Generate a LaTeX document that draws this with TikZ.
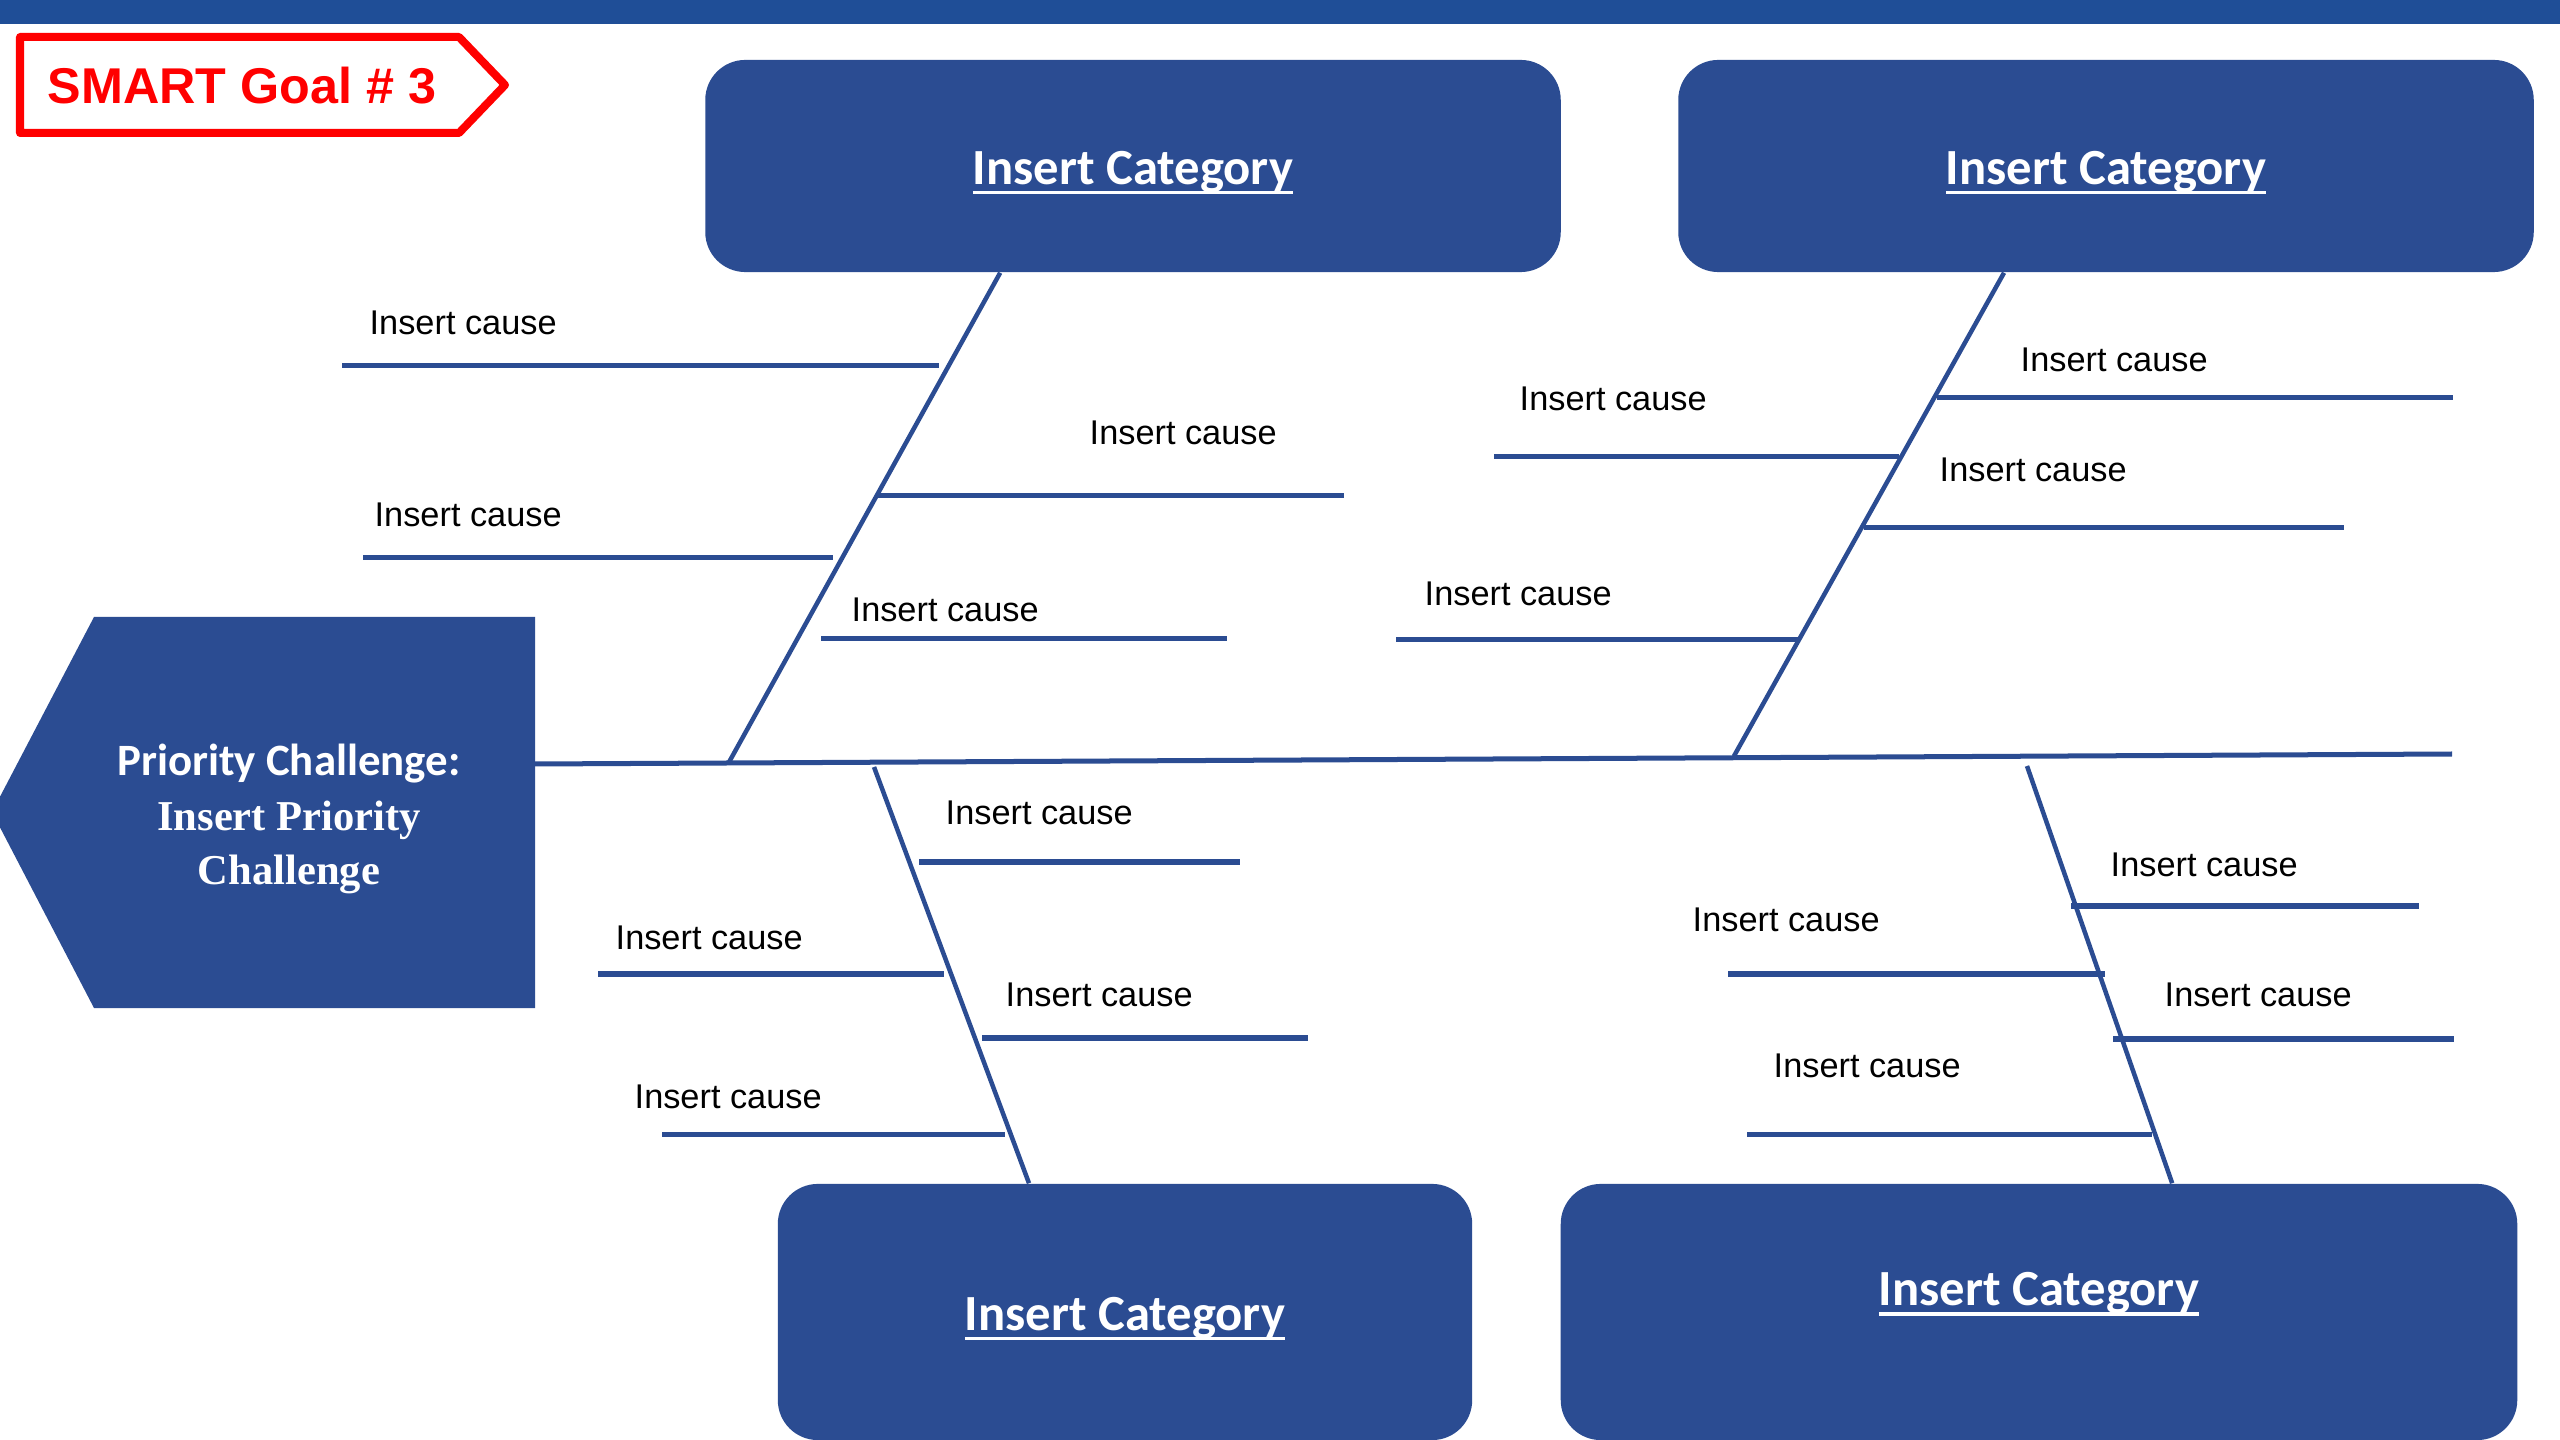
\documentclass[tikz,border=0pt]{standalone}
\usepackage{fontspec}
\setmainfont{Liberation Sans}
\newfontfamily\calibri{Carlito}
\newfontfamily\timesrm{Liberation Serif}
\usetikzlibrary{calc}

\definecolor{fishblue}{RGB}{43,76,146}
\definecolor{barblue}{RGB}{31,78,151}
\definecolor{goalred}{RGB}{255,0,0}

% underline for the category titles
\newcommand{\catline}[1]{\setbox0\hbox{#1}\rlap{\rule[-0.1cm]{\wd0}{0.033cm}}\box0}

\begin{document}
\begin{tikzpicture}[
    x=0.01cm, y=-0.01cm,
    catbox/.style={rectangle, rounded corners=0.4cm, fill=fishblue, text=white, inner sep=0pt,
        text height=0.38cm, text depth=0.02cm, font=\calibri\bfseries\fontsize{14.4}{17}\selectfont},
    cattext/.style={text=white, inner sep=0pt, text height=0.38cm, text depth=0.02cm,
        font=\calibri\bfseries\fontsize{14.4}{17}\selectfont},
    bone/.style={draw=fishblue, line width=0.045cm},
    spine/.style={draw=fishblue, line width=0.05cm},
    cause/.style={draw=fishblue, line width=0.05cm},
    causetext/.style={anchor=west, inner sep=0pt, font=\fontsize{9.76}{11.7}\selectfont}
]
% Page and top bar
\useasboundingbox (0,0) rectangle (2560,1440);
\clip (0,0) rectangle (2560,1440);
\fill[white] (0,0) rectangle (2560,1440);
\fill[barblue] (0,0) rectangle (2560,24);

% SMART goal tag
\draw[goalred, line width=0.08cm, line join=round] (20,37) -- (459,37) -- (505,85) -- (459,133) -- (20,133) -- cycle;
\node[text=goalred, inner sep=0pt, font=\bfseries\fontsize{14.3}{17}\selectfont] (goal) at (242,86) {SMART Goal \# 3};

% Head of the fish
\fill[fishblue] (94,617) -- (535,617) -- (535,1008) -- (94,1008) -- (-8,812) -- cycle;
\node[text=white, align=center, inner sep=0pt, font=\timesrm\bfseries\fontsize{12.1}{15.4}\selectfont] (head) at (289,819)
    {{\calibri\fontsize{12.75}{15.4}\selectfont Priority Challenge:}\\Insert Priority\\Challenge};

% Spine
\coordinate (spine start) at (535,764);
\coordinate (spine end) at (2452,754);
\draw[spine] (spine start) -- (spine end);

% Category boxes
\node[catbox, minimum width=8.55cm, minimum height=2.12cm] (cat1) at (1133,166) {\catline{Insert Category}};
\node[catbox, minimum width=8.55cm, minimum height=2.12cm] (cat2) at (2106,166) {\catline{Insert Category}};
\node[catbox, minimum width=6.94cm, minimum height=2.56cm] (cat3) at (1125,1312) {\catline{Insert Category}};
\node[catbox, minimum width=9.56cm, minimum height=2.56cm] (cat4) at (2039,1312) {};
\node[cattext] (cat4 text) at ([yshift=0.245cm]cat4.center) {\catline{Insert Category}};

% Bones
\coordinate (j1) at (728,764);
\coordinate (j2) at (1734,756);
\coordinate (j3) at (874,767);
\coordinate (j4) at (2027,766);
\draw[bone] ($(cat1.south west)!0.345!(cat1.south east)$) -- (j1);
\draw[bone] ($(cat2.south west)!0.381!(cat2.south east)$) -- (j2);
\draw[bone] (j3) -- ($(cat3.north west)!0.362!(cat3.north east)$);
\draw[bone] (j4) -- ($(cat4.north west)!0.639!(cat4.north east)$);

% Causes
\foreach \n/\tx/\ty/\xa/\xb/\yl in {
    1/369/323/342/939/366, 2/1089/433/877/1344/496, 3/374/515/363/833/558, 4/851/610/821/1227/639,
    5/2020/360/1937/2453/398, 6/1519/399/1494/1899/457, 7/1939/470/1864/2344/528, 8/1424/594/1396/1798/640,
    9/945/813/919/1240/862, 10/615/938/598/944/974, 11/1005/995/982/1308/1038, 12/634/1097/662/1005/1134,
    13/2110/865/2071/2419/906, 14/1692/920/1728/2105/974, 15/2164/995/2113/2454/1039, 16/1773/1066/1747/2152/1134} {
    \node[causetext] (c\n) at (\tx,\ty) {Insert cause};
    \draw[cause] (\xa,\yl) -- (\xb,\yl);
}
\end{tikzpicture}
\end{document}
